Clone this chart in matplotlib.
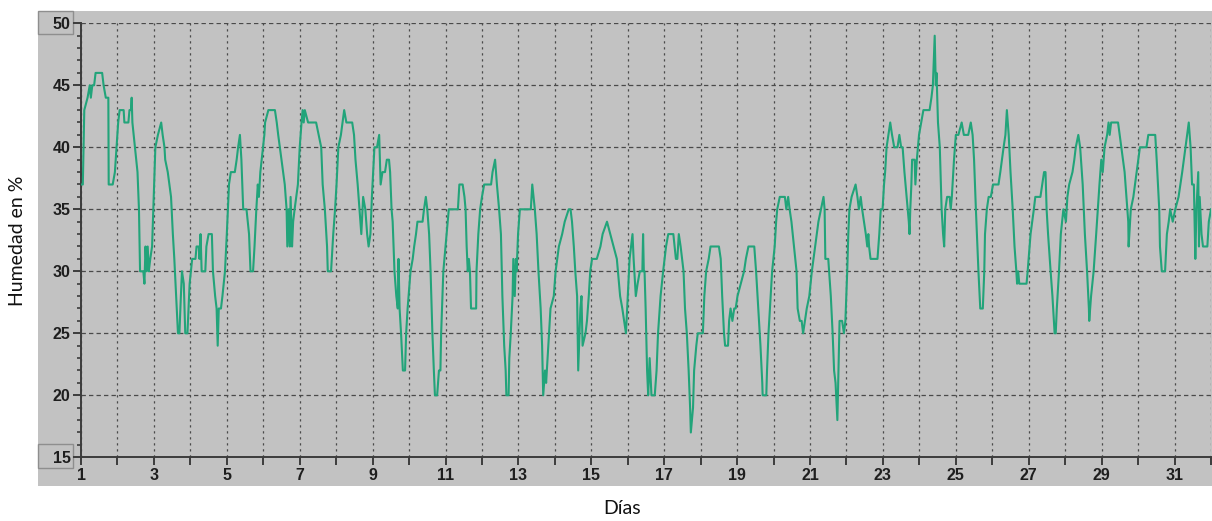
import matplotlib
matplotlib.use("Agg")
import matplotlib.pyplot as plt
from matplotlib.patches import Rectangle
from matplotlib.ticker import MultipleLocator, FuncFormatter

# Hourly-ish relative humidity readings over one month (day of month, %)
dias = [
    1.00, 1.05, 1.09, 1.18, 1.24, 1.27, 1.31, 1.36, 1.40, 1.58, 1.62, 1.68, 1.75, 1.76, 1.87, 1.93,
    2.02, 2.06, 2.17, 2.19, 2.30, 2.33, 2.37, 2.39, 2.41, 2.48, 2.55, 2.59, 2.62, 2.71, 2.74, 2.77,
    2.80, 2.83, 2.86, 2.90, 2.95, 3.04, 3.11, 3.20, 3.24, 3.29, 3.31, 3.38, 3.47, 3.52, 3.56, 3.66,
    3.70, 3.74, 3.77, 3.82, 3.86, 3.92, 3.98, 4.05, 4.14, 4.17, 4.23, 4.25, 4.28, 4.31, 4.41, 4.44,
    4.50, 4.59, 4.62, 4.68, 4.72, 4.75, 4.78, 4.84, 4.88, 4.95, 5.00, 5.06, 5.11, 5.22, 5.27, 5.31,
    5.36, 5.40, 5.45, 5.54, 5.61, 5.65, 5.72, 5.76, 5.81, 5.85, 5.88, 5.92, 6.03,
    6.05, 6.14, 6.32, 6.37, 6.41, 6.50, 6.59, 6.64, 6.66, 6.70, 6.73, 6.75, 6.79, 6.82, 6.86, 6.95,
    7.00, 7.05, 7.08, 7.11, 7.14, 7.23, 7.45, 7.52, 7.59, 7.63, 7.69, 7.75, 7.77, 7.86, 7.88, 7.92,
    7.97, 8.01, 8.06, 8.13, 8.22, 8.28, 8.44, 8.49, 8.53, 8.59, 8.64, 8.69, 8.74, 8.80, 8.85, 8.89,
    8.94, 8.98, 9.05, 9.12, 9.18, 9.22, 9.27, 9.34, 9.39, 9.45, 9.48,
    9.52, 9.55, 9.60, 9.65, 9.69, 9.71, 9.74, 9.78, 9.83, 9.89, 9.92, 9.96, 10.04, 10.10, 10.14,
    10.19, 10.23, 10.37, 10.41, 10.46, 10.50, 10.55, 10.59, 10.64, 10.68, 10.71, 10.77, 10.82,
    10.86, 10.88, 10.94, 11.00,
    11.09, 11.15, 11.34, 11.38, 11.47, 11.52, 11.55, 11.58, 11.61, 11.64, 11.67, 11.70, 11.84,
    11.85, 11.90, 11.95, 12.00, 12.06, 12.25, 12.29, 12.36, 12.41, 12.47, 12.52, 12.56, 12.61,
    12.65, 12.67, 12.73, 12.75, 12.79, 12.84, 12.86, 12.90, 12.93, 12.95, 12.99, 13.04, 13.34,
    13.38, 13.45, 13.50, 13.55, 13.61, 13.65, 13.68, 13.73, 13.76, 13.82, 13.88, 13.97, 14.02,
    14.11, 14.20, 14.27, 14.38, 14.43, 14.47, 14.52, 14.56, 14.61, 14.64, 14.70, 14.73, 14.76,
    14.84, 14.88, 14.93, 14.97, 15.02, 15.15, 15.25, 15.31, 15.43, 15.52, 15.61, 15.70, 15.79,
    15.85, 15.95,
    16.00, 16.05, 16.13, 16.16, 16.22, 16.27, 16.33, 16.40, 16.42, 16.44,
    16.46, 16.49, 16.53, 16.56, 16.60, 16.65, 16.74, 16.79, 16.83, 16.90, 16.97, 17.05, 17.11,
    17.25, 17.32, 17.36, 17.40, 17.45, 17.53, 17.57, 17.62, 17.67, 17.71, 17.73, 17.79, 17.82,
    17.88, 17.92, 18.06, 18.10, 18.15, 18.22, 18.27, 18.50, 18.55, 18.59, 18.64, 18.67, 18.75,
    18.78, 18.82, 18.87, 18.92, 18.96, 19.01, 19.10, 19.19, 19.24, 19.31, 19.47, 19.52, 19.58,
    19.64, 19.69, 19.70, 19.80, 19.82, 19.86, 19.92, 19.96, 20.03, 20.07, 20.10, 20.17, 20.31,
    20.35, 20.40, 20.44, 20.49, 20.56, 20.63, 20.66, 20.72, 20.77, 20.81, 20.86, 20.91, 20.98,
    21.05, 21.14, 21.23, 21.37, 21.40, 21.42, 21.50,
    21.57, 21.62, 21.66, 21.70, 21.75, 21.78, 21.81, 21.88, 21.93, 21.97,
    22.02, 22.05, 22.08, 22.14, 22.25, 22.30, 22.34, 22.39, 22.43, 22.48, 22.53, 22.57, 22.60,
    22.62, 22.66, 22.85, 22.90, 22.94, 22.99, 23.03, 23.06, 23.10, 23.15, 23.20, 23.25, 23.31,
    23.40, 23.45, 23.50, 23.54, 23.59, 23.65, 23.71, 23.73, 23.75, 23.78, 23.80, 23.87, 23.89,
    23.93, 23.96, 23.99, 24.05, 24.11, 24.28, 24.33, 24.37, 24.42, 24.45, 24.47, 24.51, 24.56,
    24.59, 24.61, 24.65, 24.68, 24.71, 24.76, 24.83, 24.86, 24.89, 24.95, 25.00, 25.07, 25.16,
    25.22, 25.34, 25.41, 25.46, 25.50, 25.55, 25.62, 25.67, 25.74, 25.78, 25.80, 25.85, 25.90,
    25.96, 26.02, 26.17, 26.22, 26.31, 26.36, 26.40, 26.45, 26.50, 26.56, 26.61, 26.66, 26.68,
    26.71, 26.74, 26.87,
    26.94, 26.97, 27.05, 27.14, 27.18, 27.32, 27.37, 27.42, 27.46, 27.49, 27.53, 27.60, 27.65,
    27.67, 27.71, 27.74, 27.77, 27.83, 27.88, 27.95, 28.02, 28.06, 28.11, 28.20, 28.25, 28.29,
    28.36, 28.41, 28.48, 28.54, 28.60, 28.65, 28.66, 28.71, 28.78, 28.85, 28.94, 28.99, 29.03,
    29.08, 29.15, 29.19, 29.22, 29.26, 29.45, 29.54, 29.63, 29.68, 29.73, 29.74, 29.80, 29.87,
    29.96, 30.05, 30.23, 30.28, 30.47, 30.51, 30.58, 30.60, 30.65, 30.74, 30.79, 30.84, 30.88,
    30.95, 31.02, 31.11, 31.21, 31.30, 31.39, 31.44, 31.48, 31.53, 31.57, 31.60, 31.65, 31.67,
    31.69, 31.74, 31.78, 31.90, 31.94, 32.00,
]

humedad = [
    37, 37, 43, 44, 45, 44, 45, 45, 46, 46, 45, 44, 44, 37, 37, 38,
    42, 43, 43, 42, 42, 43, 43, 44, 42, 40, 38, 35, 30, 30, 29, 32,
    30, 32, 30, 31, 32, 40, 41, 42, 41, 40, 39, 38, 36, 33, 31, 25,
    25, 28, 30, 29, 25, 25, 29, 31, 31, 32, 32, 31, 33, 30, 30, 32,
    33, 33, 30, 28, 27, 24, 27, 27, 28, 30, 33, 37, 38, 38, 39, 40,
    41, 39, 35, 35, 33, 30, 30, 32, 35, 37, 36, 38, 41,
    42, 43, 43, 42, 41, 39, 37, 35, 32, 35, 32, 36, 32, 34, 35, 37,
    40, 42, 43, 42, 43, 42, 42, 41, 40, 37, 35, 32, 30, 30, 31, 33,
    35, 37, 40, 41, 43, 42, 42, 41, 39, 37, 35, 33, 36, 35, 33, 32,
    33, 36, 40, 40, 41, 37, 38, 38, 39, 39, 38,
    35, 34, 30, 28, 27, 31, 27, 25, 22, 22, 25, 27, 30, 31, 32,
    33, 34, 34, 35, 36, 35, 33, 30, 25, 22, 20, 20, 22,
    22, 25, 30, 32,
    35, 35, 35, 37, 37, 36, 35, 32, 30, 31, 30, 27, 27,
    30, 33, 35, 36, 37, 37, 38, 39, 37, 35, 33, 28, 24,
    22, 20, 20, 23, 25, 28, 31, 28, 31, 30, 33, 35, 35,
    37, 35, 33, 30, 27, 24, 20, 22, 21, 24, 27, 28, 30,
    32, 33, 34, 35, 35, 34, 32, 30, 28, 22, 27, 28, 24,
    25, 26, 28, 30, 31, 31, 32, 33, 34, 33, 32, 31, 28,
    27, 25,
    28, 31, 33, 31, 28, 29, 30, 30, 33, 30,
    30, 27, 22, 20, 23, 20, 20, 22, 25, 28, 30, 32, 33,
    33, 31, 31, 33, 32, 30, 27, 25, 22, 19, 17, 19, 22,
    24, 25, 25, 28, 30, 31, 32, 32, 31, 28, 25, 24, 24,
    26, 27, 26, 27, 27, 28, 29, 30, 31, 32, 32, 30, 27,
    24, 21, 20, 20, 22, 25, 28, 30, 32, 34, 35, 36, 36,
    35, 36, 35, 34, 32, 30, 27, 26, 26, 25, 26, 27, 28,
    30, 32, 34, 36, 35, 31, 31,
    28, 25, 22, 21, 18, 22, 26, 26, 25, 26,
    30, 33, 35, 36, 37, 36, 35, 36, 35, 34, 33, 32, 33,
    32, 31, 31, 33, 35, 35, 37, 38, 40, 41, 42, 41, 40,
    40, 41, 40, 40, 38, 36, 34, 33, 35, 37, 39, 39, 37,
    39, 40, 41, 42, 43, 43, 44, 45, 49, 45, 46, 42, 40,
    37, 35, 33, 32, 35, 36, 36, 35, 36, 39, 41, 41, 42,
    41, 41, 42, 41, 39, 35, 30, 27, 27, 30, 33, 35, 36,
    36, 37, 37, 38, 40, 41, 43, 41, 38, 35, 32, 30, 29,
    30, 29, 29,
    29, 30, 33, 35, 36, 36, 37, 38, 38, 35, 33, 30, 28,
    27, 25, 25, 27, 30, 33, 35, 34, 36, 37, 38, 39, 40,
    41, 40, 37, 33, 30, 27, 26, 28, 30, 33, 37, 39, 38,
    40, 41, 42, 41, 42, 42, 40, 38, 36, 34, 32, 35, 36,
    38, 40, 40, 41, 41, 39, 35, 32, 30, 30, 33, 34, 35,
    34, 35, 36, 38, 40, 42, 40, 37, 37, 31, 35, 38, 32,
    36, 33, 32, 32, 34, 35,
]

y_ticks = [15, 20, 25, 30, 35, 40, 45, 50]
x_label = "Días"
y_label = "Humedad en %"

W, H = 1212, 521
fig = plt.figure(figsize=(W / 100, H / 100), dpi=100, facecolor="white")


def fx(px):
    return px / W


def fy(py):
    return 1 - py / H


panel = "#c2c2c2"
ink = "#3c3c3c"

# grey instrument panel behind the plot
fig.patches.append(Rectangle((fx(38), fy(486)), fx(1212) - fx(38), fy(11) - fy(486),
                             transform=fig.transFigure, facecolor=panel,
                             edgecolor="none", zorder=-3))
# framed boxes around the scale end values
for top, bottom in [(11, 33.5), (444, 467.5)]:
    fig.patches.append(Rectangle((fx(38), fy(bottom)), fx(72.5) - fx(38), fy(top) - fy(bottom),
                                 transform=fig.transFigure, facecolor=panel,
                                 edgecolor="#8e8e8e", lw=1.0, zorder=-2))

ax = fig.add_axes([fx(81), fy(457.3), fx(1211) - fx(81), fy(23.3) - fy(457.3)])
ax.set_facecolor(panel)
ax.set_xlim(1, 32)
ax.set_ylim(15, 50)

ax.plot(dias, humedad, color="#22a47a", lw=1.5, zorder=3)

ax.xaxis.set_major_locator(MultipleLocator(1))
ax.xaxis.set_major_formatter(FuncFormatter(
    lambda v, p: f"{int(round(v))}" if int(round(v)) % 2 == 1 and v < 32 else ""))
ax.set_yticks(y_ticks)
ax.yaxis.set_minor_locator(MultipleLocator(1))

ax.xaxis.grid(True, color="#4a4a4a", lw=0.9, ls=(0, (1.8, 3)))
ax.yaxis.grid(True, color="#4a4a4a", lw=0.9, ls=(0, (3.5, 2.5)))
ax.set_axisbelow(True)

for s in ("top", "right"):
    ax.spines[s].set_visible(False)
for s in ("left", "bottom"):
    ax.spines[s].set_color(ink)
    ax.spines[s].set_linewidth(1.4)

tick_font = dict(family=["Liberation Sans", "DejaVu Sans"], weight="bold", size=11.5)
ax.tick_params(axis="x", which="major", direction="out", length=6, width=1.4, color=ink, pad=2)
ax.tick_params(axis="y", which="major", direction="out", length=6, width=1.4, color=ink, pad=1.5)
ax.tick_params(axis="y", which="minor", direction="out", length=3, width=1.2, color=ink)
for lab in ax.get_xticklabels() + ax.get_yticklabels():
    lab.set_fontproperties(tick_font)
    lab.set_color("#1e1e1e")

fig.text(fx(18), fy(241), y_label, rotation=90, ha="center", va="center",
         fontsize=14, family=["Lato", "DejaVu Sans"], color="#111111")
fig.text(fx(622), fy(508), x_label, ha="center", va="center",
         fontsize=14, family=["Lato", "DejaVu Sans"], color="#111111")

fig.savefig("out.png", dpi=100, facecolor="white")
